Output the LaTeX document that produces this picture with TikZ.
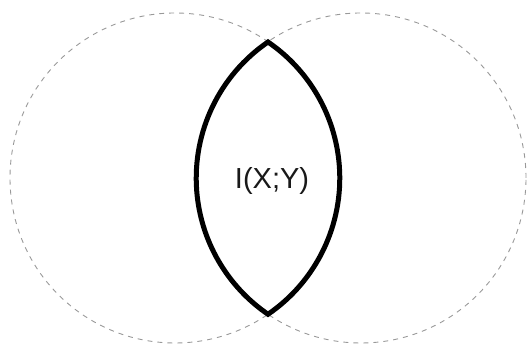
\documentclass[tikz,border=0pt]{standalone}
\usepackage{fontspec}
\setmainfont{Liberation Sans}
\begin{document}
\begin{tikzpicture}[x=1pt,y=1pt,
  setcircle/.style={draw=black!40, line width=0.9pt, dash pattern=on 5pt off 5pt},
  lens/.style={draw=black, line width=5pt, line join=miter},
  lbl/.style={font=\fontsize{29}{31}\selectfont, text=black!90, inner sep=0pt}]
\useasboundingbox (0,0) rectangle (528,344);
\draw[setcircle] (175,166) circle[radius=165];
\draw[setcircle] (361,166) circle[radius=165];
\draw[lens] (268,302) arc[start angle=124.4, end angle=235.6, radius=165]
  arc[start angle=-55.6, end angle=55.6, radius=165] -- cycle;
\node[lbl] (mi) at (272,163) {I(X;Y)};
\end{tikzpicture}
\end{document}
